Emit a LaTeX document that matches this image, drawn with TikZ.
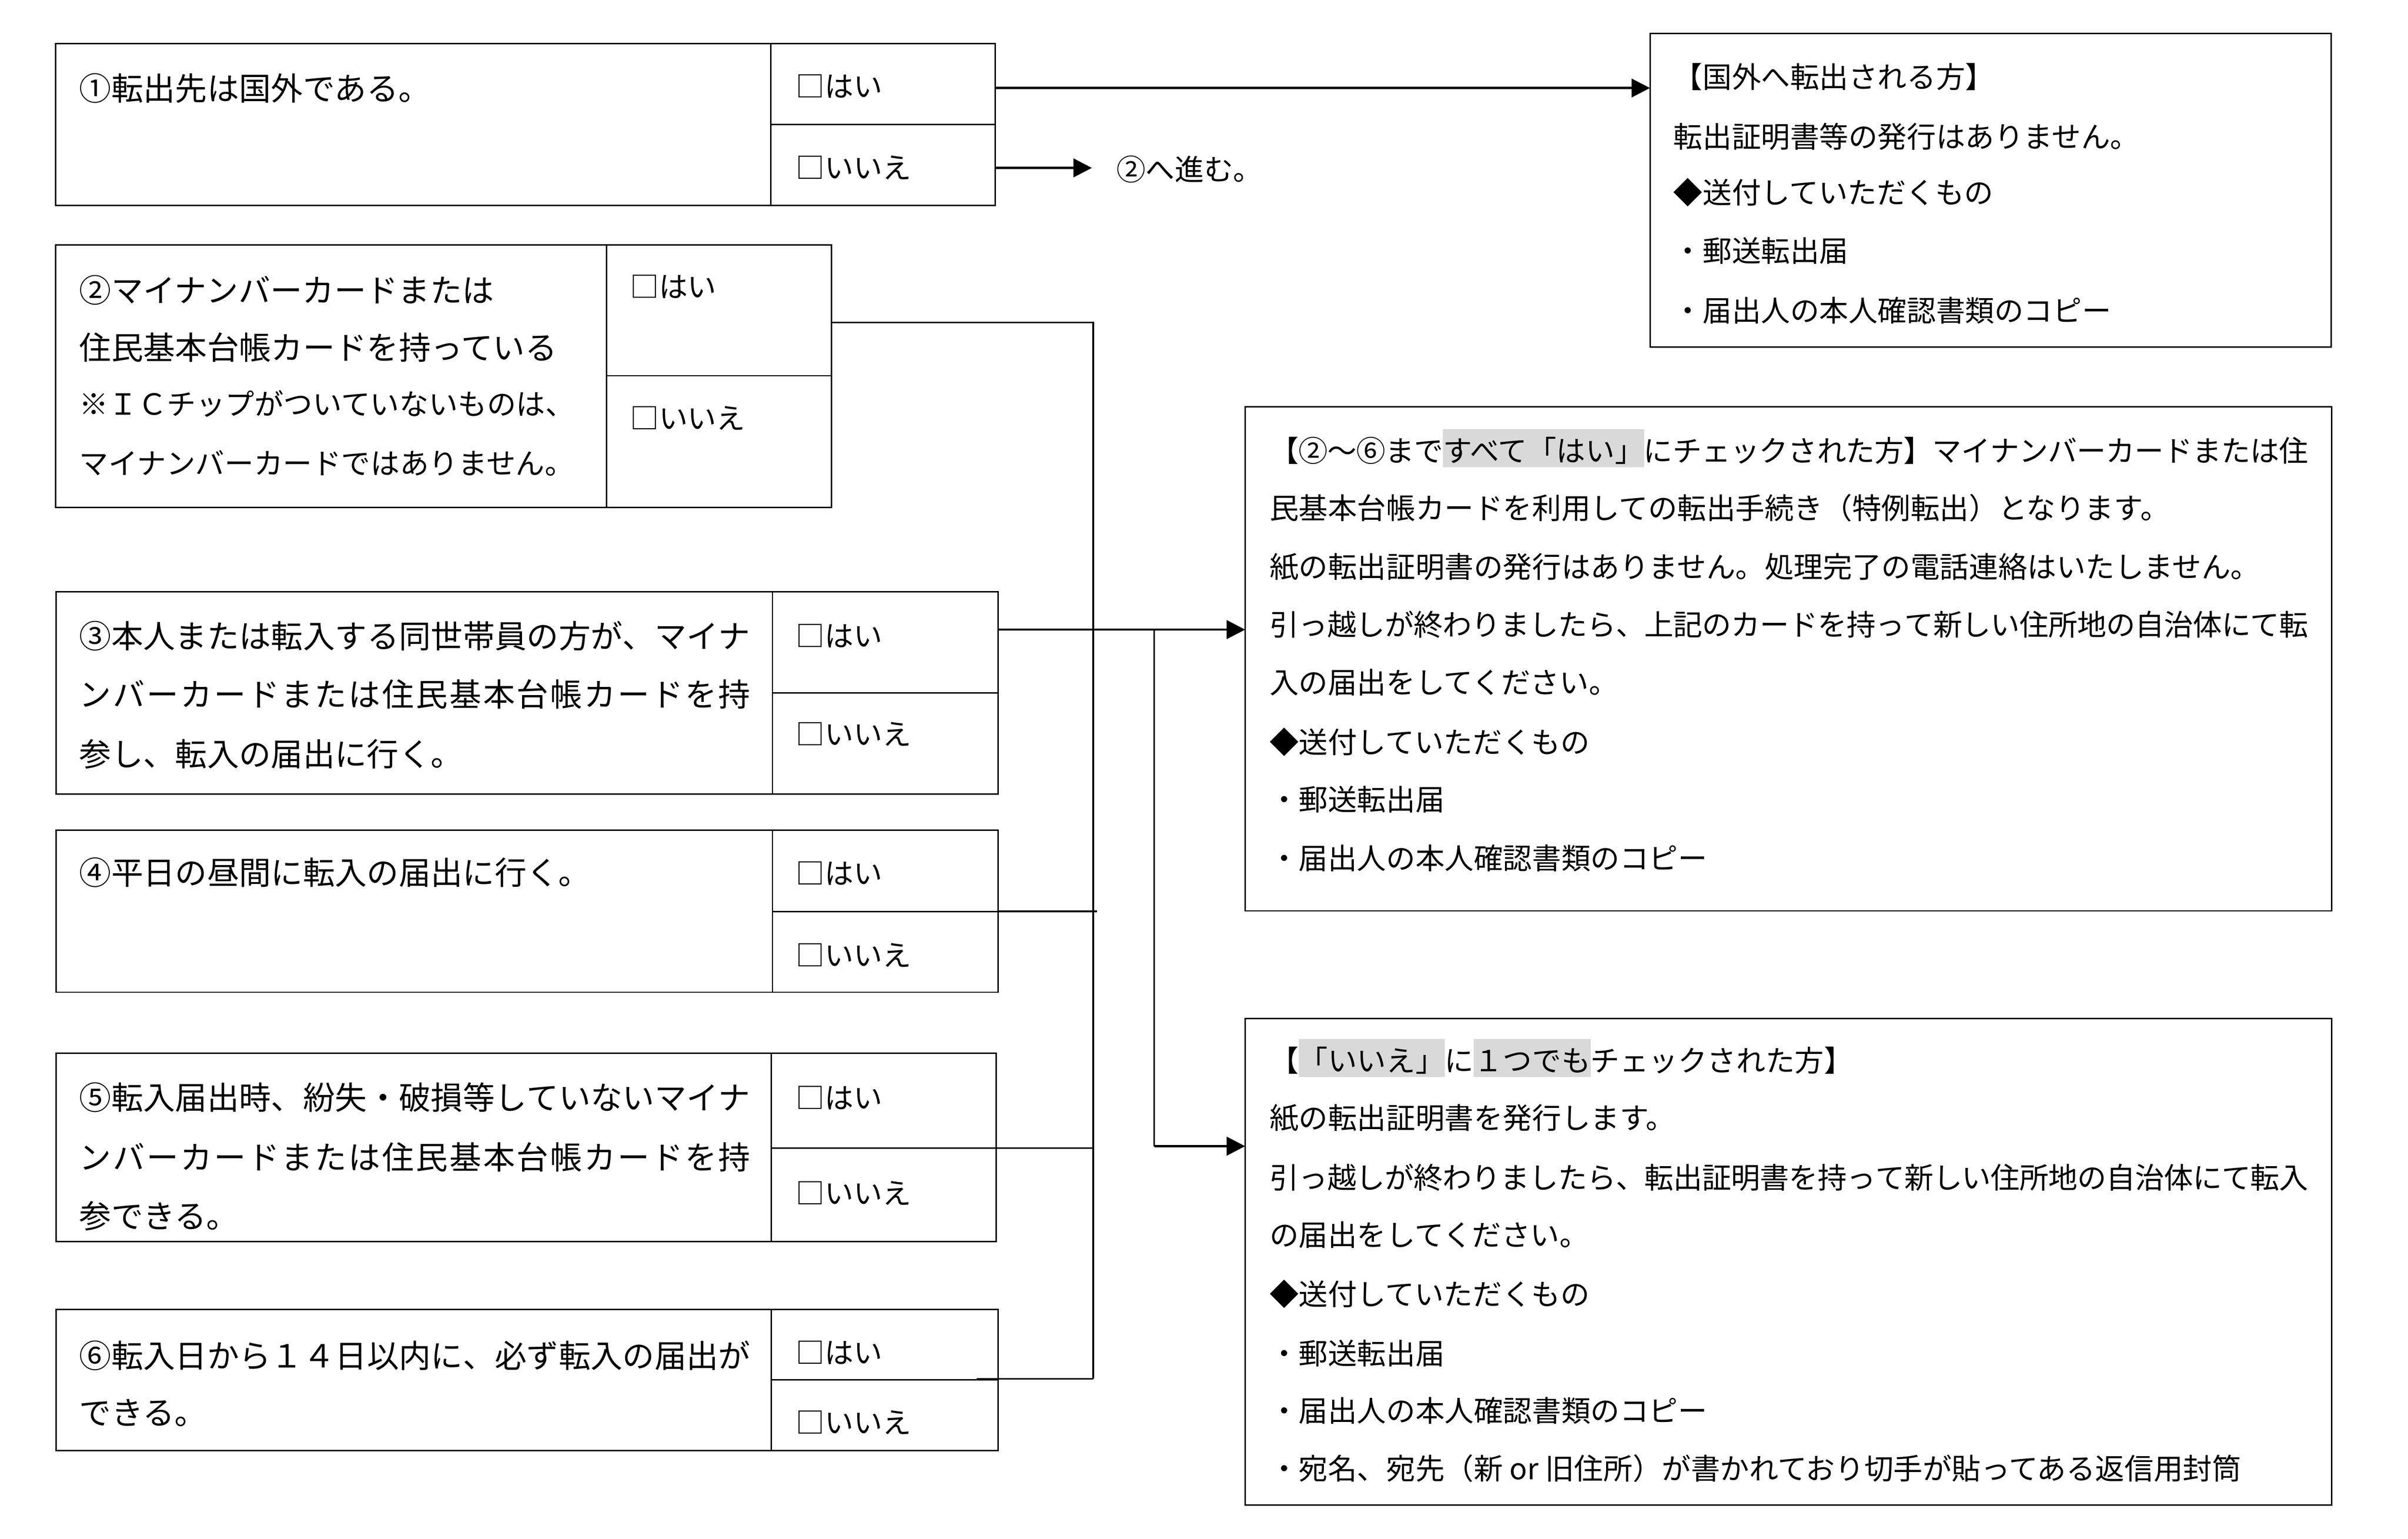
\documentclass[tikz,border=0pt]{standalone}
\usepackage{fontspec}
\setmainfont{Noto Sans CJK JP}
\usetikzlibrary{arrows.meta}
\definecolor{hlgray}{HTML}{D9D9D9}

% spread the characters of one line evenly over a given width
\def\jlend{\jlend}
\def\jlstep#1{#1\futurelet\jlnext\jlcheck}
\def\jlcheck{\ifx\jlnext\jlend\expandafter\jlgobble\else\hskip 0pt plus 1fil minus 1fil\relax\expandafter\jlstep\fi}
\def\jlgobble#1{}
\newcommand\justline[2]{\hbox to #1{\jlstep#2\jlend}}
\newcommand\hlbox[1]{{\setlength{\fboxsep}{0pt}\colorbox{hlgray}{\rule[-0.2em]{0pt}{1.31em}#1}}}
\newcommand\cell[5]{\node[cellbox, minimum width={(#4-#2)*1pt}, minimum height={(#5-#3)*1pt}] (#1) at (#2,#3) {};}

\begin{document}
\begin{tikzpicture}[x=1pt,y=-1pt,
  cellbox/.style={draw, line width=0.9pt, inner sep=0pt, outer sep=0pt, anchor=north west},
  conn/.style={line width=1.1pt},
  arr/.style={line width=1.5pt, -{Triangle[length=12pt,width=12pt]}},
  lq/.style={anchor=base west, inner sep=0pt, font=\fontsize{20.8}{25}\selectfont},
  yn/.style={anchor=base west, inner sep=0pt, font=\fontsize{18.8}{22}\selectfont},
  rt/.style={anchor=base west, inner sep=0pt, font=\fontsize{19}{23}\selectfont}]

\fill[white] (0,0) rectangle (1568,1001.7);
\useasboundingbox (0,0) rectangle (1568,1001.7);

% ---------- question boxes ----------
\cell{q1t}{36.2}{28.3}{502}{133.8}
\cell{q1y}{502}{28.3}{648}{81}
\cell{q1n}{502}{81}{648}{133.8}
\cell{q2t}{36.2}{159.5}{395}{330.5}
\cell{q2y}{395}{159.5}{541.5}{244.6}
\cell{q2n}{395}{244.6}{541.5}{330.5}
\cell{q3t}{36.5}{385.2}{503}{517}
\cell{q3y}{503}{385.2}{650}{451}
\cell{q3n}{503}{451}{650}{517}
\cell{q4t}{36.5}{540.5}{503}{646}
\cell{q4y}{503}{540.5}{650}{593.4}
\cell{q4n}{503}{593.4}{650}{646}
\cell{q5t}{36.5}{685.7}{502.3}{808.4}
\cell{q5y}{502.3}{685.7}{648.6}{747.5}
\cell{q5n}{502.3}{747.5}{648.6}{808.4}
\cell{q6t}{36.5}{852.4}{502.3}{944.3}
\cell{q6y}{502.3}{852.4}{649.8}{898.2}
\cell{q6n}{502.3}{898.2}{649.8}{944.3}

% ---------- result boxes ----------
\cell{rA}{1074.4}{21.7}{1518}{226}
\cell{rB}{810.8}{264.7}{1518.2}{593}
\cell{rC}{810.8}{663.1}{1518.2}{979.8}

% ---------- question texts ----------
\node[lq] (t1) at (51.5,65.4) {①転出先は国外である。};
\node[yn] (y1) at (518,63.1) {□はい};
\node[yn] (n1) at (518,116.1) {□いいえ};

\node[lq] (t2a) at (51.5,196.7) {②マイナンバーカードまたは};
\node[lq] (t2b) at (51.5,234) {住民基本台帳カードを持っている};
\node[rt] (t2c) at (51.5,270.2) {※ＩＣチップがついていないものは、};
\node[rt] (t2d) at (51.5,308.8) {マイナンバーカードではありません。};
\node[yn] (y2) at (410,193.6) {□はい};
\node[yn] (n2) at (410,279.1) {□いいえ};

\node[lq] (t3a) at (51.5,421.9) {\justline{437pt}{③本人または転入する同世帯員の方が、マイナ}};
\node[lq] (t3b) at (51.5,459.9) {\justline{437pt}{ンバーカードまたは住民基本台帳カードを持}};
\node[lq] (t3c) at (51.5,498.9) {参し、転入の届出に行く。};
\node[yn] (y3) at (518,421.1) {□はい};
\node[yn] (n3) at (518,485.1) {□いいえ};

\node[lq] (t4) at (51.5,575.9) {④平日の昼間に転入の届出に行く。};
\node[yn] (y4) at (518,575.6) {□はい};
\node[yn] (n4) at (518,628.9) {□いいえ};

\node[lq] (t5a) at (51.5,722.4) {\justline{437pt}{⑤転入届出時、紛失・破損等していないマイナ}};
\node[lq] (t5b) at (51.5,761.4) {\justline{437pt}{ンバーカードまたは住民基本台帳カードを持}};
\node[lq] (t5c) at (51.5,799.4) {参できる。};
\node[yn] (y5) at (518,721.6) {□はい};
\node[yn] (n5) at (518,783.8) {□いいえ};

\node[lq] (t6a) at (51.5,890.3) {\justline{437pt}{⑥転入日から１４日以内に、必ず転入の届出が}};
\node[lq] (t6b) at (51.5,927.5) {できる。};
\node[yn] (y6) at (518,887.7) {□はい};
\node[yn] (n6) at (518,933.1) {□いいえ};

% ---------- result texts ----------
\node[rt] (a1) at (1089.5,57.2) {【国外へ転出される方】};
\node[rt] (a2) at (1089.5,96) {転出証明書等の発行はありません。};
\node[rt] (a3) at (1089.5,132.5) {◆送付していただくもの};
\node[rt] (a4) at (1089.5,170.4) {・郵送転出届};
\node[rt] (a5) at (1089.5,209.2) {・届出人の本人確認書類のコピー};

\node[rt] (b1) at (826.5,300.5) {\justline{676.5pt}{【②～⑥まで{\hlbox{すべて「はい」}}にチェックされた方】マイナンバーカードまたは住}};
\node[rt] (b2) at (826.5,337.8) {民基本台帳カードを利用しての転出手続き（特例転出）となります。};
\node[rt] (b3) at (826.5,376.2) {紙の転出証明書の発行はありません。処理完了の電話連絡はいたしません。};
\node[rt] (b4) at (826.5,413.9) {\justline{676.5pt}{引っ越しが終わりましたら、上記のカードを持って新しい住所地の自治体にて転}};
\node[rt] (b5) at (826.5,451.4) {入の届出をしてください。};
\node[rt] (b6) at (826.5,490.2) {◆送付していただくもの};
\node[rt] (b7) at (826.5,527.5) {・郵送転出届};
\node[rt] (b8) at (826.5,565.9) {・届出人の本人確認書類のコピー};

\node[rt] (c1) at (826.5,697.5) {【\hlbox{「いいえ」}に\hlbox{１つでも}チェックされた方】};
\node[rt] (c2) at (826.5,735) {紙の転出証明書を発行します。};
\node[rt] (c3) at (826.5,773.7) {\justline{676.5pt}{引っ越しが終わりましたら、転出証明書を持って新しい住所地の自治体にて転入}};
\node[rt] (c4) at (826.5,811) {の届出をしてください。};
\node[rt] (c5) at (826.5,849.6) {◆送付していただくもの};
\node[rt] (c6) at (826.5,888.2) {・郵送転出届};
\node[rt] (c7) at (826.5,925.7) {・届出人の本人確認書類のコピー};
\node[rt] (c8) at (826.5,963.2) {・宛名、宛先（新 or 旧住所）が書かれており切手が貼ってある返信用封筒};

\node[rt] (go2) at (726.8,117.4) {②へ進む。};

% ---------- connectors ----------
\coordinate (s1) at (648,57.3);
\draw[arr] (s1) -- (s1 -| rA.west);
\coordinate (s1n) at (648,109.3);
\coordinate (e1n) at (711,109.3);
\draw[arr] (s1n) -- (e1n);

\coordinate (s2) at (541.5,210);
\coordinate (vA) at (711.9,210);
\coordinate (vB) at (711.9,897.6);
\draw[conn] (s2) -- (vA) -- (vB);

\coordinate (s3) at (650,409.9);
\coordinate (jn) at (751.6,409.9);
\coordinate (jc) at (751.6,746.2);
\draw[conn] (s3) -- (jn);
\draw[arr] (jn) -- (jn -| rB.west);
\draw[conn] (jn) -- (jc);
\draw[arr] (jc) -- (jc -| rC.west);

\coordinate (e4) at (714.5,593.4);
\draw[conn] (q4n.north east) -- (e4);

\draw[conn] (q5n.north west) -- (q5n.north west -| vB);

\coordinate (s6) at (636,897.6);
\draw[conn] (s6) -- (vB);
\end{tikzpicture}
\end{document}
